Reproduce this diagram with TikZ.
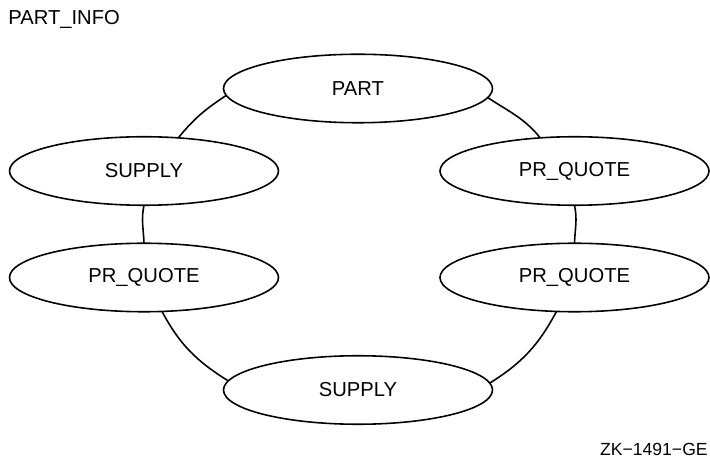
\documentclass[tikz,border=0pt]{standalone}
\usepackage{fontspec}
\setmainfont{Liberation Sans}
\usetikzlibrary{shapes.geometric}

\begin{document}
\begin{tikzpicture}[entity/.style={draw,ellipse,inner sep=0,outer sep=0,minimum width=5.38cm,minimum height=1.37cm,line width=0.9pt,font=\fontsize{11.5}{14}\selectfont},link/.style={line width=0.9pt}]
	\useasboundingbox (0,0) rectangle (14.2,9.18);
	\node[anchor=base west,inner sep=0,font=\fontsize{11.5}{14}\selectfont] (title) at (0.16,8.68) {PART\_INFO};
	\node[entity] (part) at (7.16,7.41) {PART};
	\node[entity] (supplyA) at (2.88,5.76) {SUPPLY};
	\node[entity] (quoteA) at (11.49,5.76) {PR\_QUOTE};
	\node[entity] (quoteB) at (2.88,3.63) {PR\_QUOTE};
	\node[entity] (quoteC) at (11.49,3.63) {PR\_QUOTE};
	\node[entity] (supplyB) at (7.16,1.38) {SUPPLY};
	\node[anchor=base east,inner sep=0,font=\fontsize{10}{12}\selectfont] (tag) at (14.16,0.06) {ZK−1491−GE};
	\draw[link] (part.183.5) to[out=213.5,in=51] (supplyA.44);
	\draw[link] (part.356.5) to[out=326.5,in=129] (quoteA.136);
	\draw[link] (supplyA.south) to[out=258,in=92] (quoteB.north);
	\draw[link] (quoteA.south) to[out=282,in=88] (quoteC.north);
	\draw[link] (quoteB.298) to[out=298,in=148] (supplyB.176.5);
	\draw[link] (quoteC.242) to[out=242,in=32] (supplyB.3.5);
\end{tikzpicture}
\end{document}
